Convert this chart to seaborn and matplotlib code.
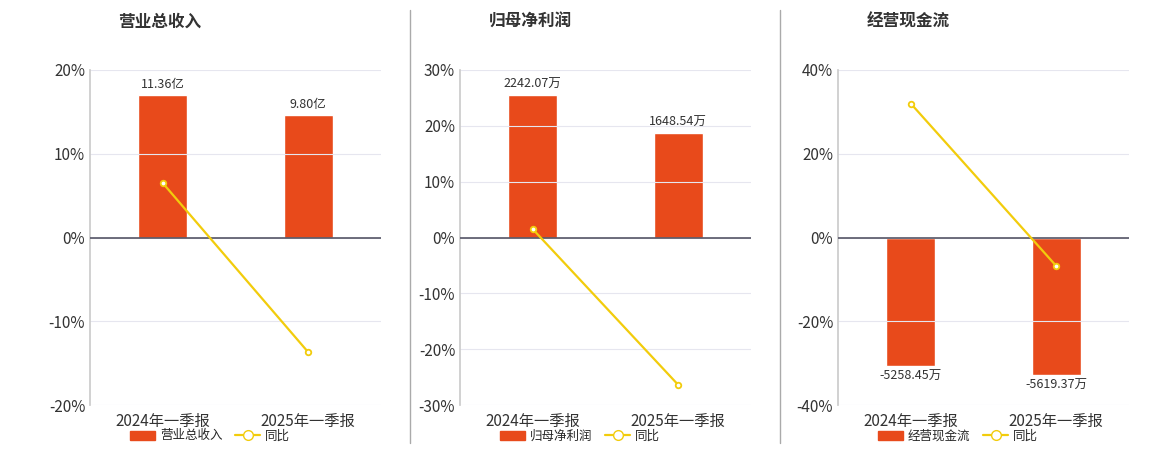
import numpy as np
import pandas as pd
import matplotlib
matplotlib.use("Agg")
import matplotlib.pyplot as plt
import seaborn as sns
from matplotlib.lines import Line2D
from matplotlib.patches import Patch
from matplotlib.ticker import FuncFormatter

periods = ['2024年一季报', '2025年一季报']
titles = ['营业总收入', '归母净利润', '经营现金流']
bar_values = [[11.36, 9.80], [2242.07, 1648.54], [-5258.45, -5619.37]]
bar_labels = [['11.36亿', '9.80亿'], ['2242.07万', '1648.54万'], ['-5258.45万', '-5619.37万']]
yoy = [[6.5, -13.7], [1.5, -26.4], [32.0, -6.8]]
yticks = [[-20, -10, 0, 10, 20], [-30, -20, -10, 0, 10, 20, 30], [-40, -20, 0, 20, 40]]
# height of the first bar in percent-axis units
bar_pct_ref = [17.0, 25.5, -30.7]

sns.set_theme(style='white')
plt.rcParams['font.family'] = ['Noto Sans CJK SC', 'DejaVu Sans']

BAR = '#E84A1B'
LINE = '#F2CC0C'
fig = plt.figure(figsize=(11.6, 4.5), dpi=100)
lefts = [90, 460, 838]
for i in range(3):
    ax = fig.add_axes([lefts[i] / 1160, 45 / 450, 291 / 1160, 335 / 450])
    lo, hi = yticks[i][0], yticks[i][-1]
    ax.set_ylim(lo, hi)
    ax.set_xlim(-0.5, 1.5)
    ax2 = ax.twinx()
    scale = bar_values[i][0] / bar_pct_ref[i]
    ax2.set_ylim(lo * scale, hi * scale)
    df = pd.DataFrame({'period': periods, 'value': bar_values[i]})
    sns.barplot(data=df, x='period', y='value', ax=ax2, color=BAR, width=0.34, saturation=1)
    ax2.set_xlim(-0.5, 1.5)
    ax2.axis('off')
    for j, (v, lab) in enumerate(zip(bar_values[i], bar_labels[i])):
        off = 3 if v > 0 else -3
        ax2.annotate(lab, (j, v), xytext=(0, off), textcoords='offset points',
                     ha='center', va='bottom' if v > 0 else 'top', fontsize=9, color='#333333')
    sns.lineplot(x=[0, 1], y=yoy[i], ax=ax, color=LINE, linewidth=1.6, marker='o',
                 markersize=4, markerfacecolor='white', markeredgecolor=LINE, markeredgewidth=1.3, zorder=5)
    ax.set_zorder(ax2.get_zorder() + 1)
    ax.patch.set_visible(False)
    ax.set_yticks(yticks[i])
    ax.yaxis.set_major_formatter(FuncFormatter(lambda v, p: f'{v:.0f}%'))
    ax.set_xticks([0, 1])
    ax.set_xticklabels(periods)
    ax.set_xticks([0.5], minor=True)
    ax.tick_params(axis='x', which='major', length=0, labelsize=11, colors='#333333', pad=6)
    ax.tick_params(axis='x', which='minor', length=4, color='#555555')
    ax.tick_params(axis='y', length=0, labelsize=11, colors='#333333')
    ax.grid(axis='y', color='#e6e6ef', linewidth=0.8)
    ax.axhline(0, color='#555566', linewidth=1.2, zorder=4)
    for s in ['top', 'right', 'bottom']:
        ax.spines[s].set_visible(False)
    ax.spines['left'].set_color('#cccccc')
    fig.text((lefts[i] + 70) / 1160, 1 - 22 / 450, titles[i], ha='center', va='center',
             fontsize=12, fontweight='bold', color='#333333')
    handles = [Patch(facecolor=BAR, edgecolor=BAR),
               Line2D([0], [0], color=LINE, marker='o', markerfacecolor='white', markersize=7, linewidth=1.6)]
    fig.legend(handles, [titles[i], '同比'], loc='center', ncol=2, frameon=False, fontsize=9,
               bbox_to_anchor=((lefts[i] + 120) / 1160, 1 - 436 / 450), handlelength=2,
               columnspacing=1.0, handletextpad=0.4)

for x in [410, 780]:
    fig.add_artist(Line2D([x / 1160, x / 1160], [1 - 443 / 450, 1 - 10 / 450], color='#aaaaaa', linewidth=1))

fig.savefig('out.png', dpi=100)
